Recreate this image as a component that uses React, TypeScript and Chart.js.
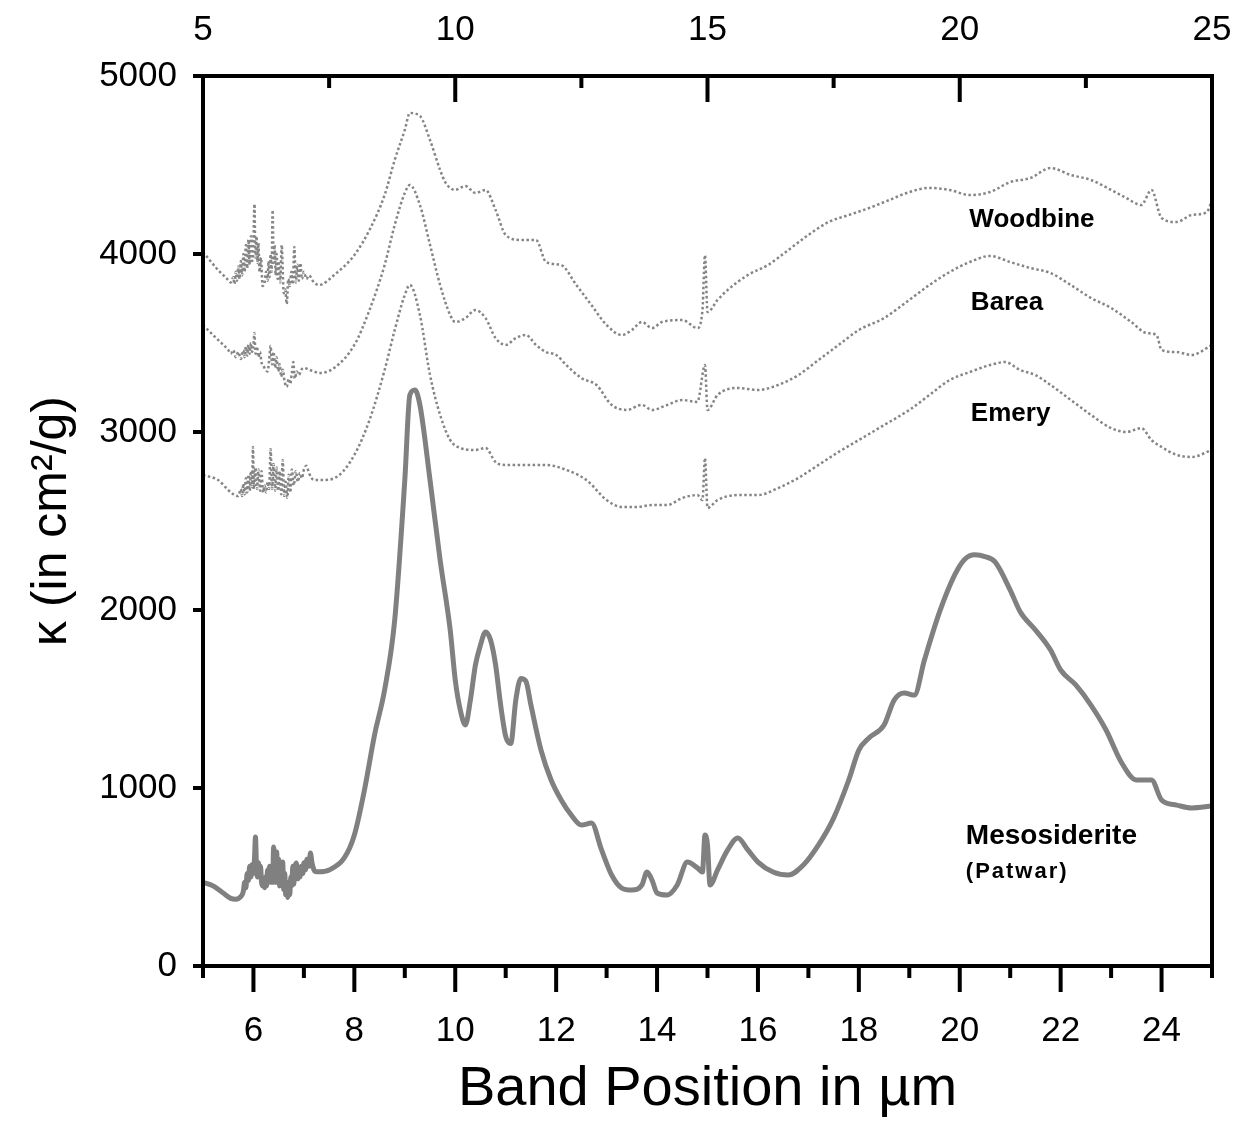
import React, { useEffect, useRef } from "react";
import { Chart, registerables } from "chart.js";

Chart.register(...registerables);

// ---------- Data (band position in µm, kappa in cm2/g) ----------
const mesoX = [5.0, 5.2, 5.4, 5.55, 5.65, 5.75, 5.8, 5.825, 5.85, 5.875, 5.9, 5.925, 5.95, 5.975, 6.0, 6.02, 6.04, 6.06, 6.08, 6.1, 6.12, 6.14, 6.16, 6.18, 6.2, 6.22, 6.24, 6.26, 6.28, 6.3, 6.32, 6.34, 6.36, 6.38, 6.4, 6.42, 6.44, 6.46, 6.48, 6.5, 6.52, 6.54, 6.56, 6.58, 6.6, 6.62, 6.64, 6.66, 6.68, 6.7, 6.72, 6.74, 6.76, 6.78, 6.8, 6.82, 6.85, 6.88, 6.9, 6.92, 6.95, 6.98, 7.0, 7.03, 7.06, 7.1, 7.13, 7.16, 7.2, 7.25, 7.3, 7.5, 7.8, 8.0, 8.2, 8.4, 8.6, 8.8, 9.0, 9.1, 9.2, 9.3, 9.5, 9.7, 9.9, 10.0, 10.1, 10.2, 10.3, 10.4, 10.5, 10.6, 10.7, 10.8, 10.9, 11.0, 11.1, 11.2, 11.3, 11.4, 11.5, 11.7, 11.9, 12.1, 12.3, 12.5, 12.7, 12.9, 13.1, 13.3, 13.5, 13.7, 13.8, 13.9, 14.0, 14.2, 14.4, 14.6, 14.8, 14.9, 14.95, 15.0, 15.05, 15.2, 15.4, 15.6, 15.8, 16.0, 16.3, 16.6, 16.9, 17.2, 17.5, 17.8, 18.0, 18.2, 18.5, 18.7, 18.9, 19.1, 19.3, 19.6, 19.9, 20.1, 20.3, 20.5, 20.7, 21.0, 21.2, 21.5, 21.8, 22.0, 22.3, 22.6, 22.9, 23.2, 23.5, 23.8, 24.0, 24.3, 24.6, 25.0];
const mesoY = [470, 450, 410, 380, 375, 390, 420, 470, 440, 520, 480, 560, 500, 570, 520, 600, 725, 560, 500, 580, 520, 560, 470, 450, 470, 440, 500, 450, 540, 480, 560, 470, 520, 470, 669, 600, 470, 640, 500, 600, 450, 560, 480, 584, 430, 520, 400, 470, 385, 420, 400, 500, 450, 560, 460, 540, 579, 490, 540, 500, 560, 520, 580, 540, 600, 560, 635, 580, 540, 530, 530, 540, 607, 736, 989, 1298, 1551, 1944, 2730, 3208, 3236, 3152, 2730, 2281, 1888, 1607, 1438, 1354, 1494, 1691, 1803, 1876, 1831, 1691, 1466, 1290, 1250, 1494, 1615, 1600, 1466, 1213, 1045, 933, 848, 792, 803, 652, 511, 438, 427, 455, 528, 483, 410, 399, 455, 584, 551, 528, 736, 680, 455, 540, 652, 719, 652, 584, 528, 511, 567, 680, 831, 1045, 1213, 1281, 1354, 1494, 1534, 1522, 1719, 1989, 2197, 2285, 2310, 2300, 2270, 2112, 1989, 1888, 1775, 1663, 1579, 1466, 1326, 1146, 1045, 1045, 933, 904, 888, 899];

const woodX = [5.0, 5.3, 5.5, 5.55, 5.6, 5.625, 5.65, 5.675, 5.7, 5.725, 5.75, 5.775, 5.8, 5.825, 5.85, 5.875, 5.9, 5.925, 5.95, 5.975, 6.0, 6.02, 6.04, 6.06, 6.08, 6.1, 6.12, 6.15, 6.18, 6.22, 6.25, 6.28, 6.3, 6.32, 6.34, 6.36, 6.38, 6.4, 6.42, 6.44, 6.46, 6.48, 6.5, 6.53, 6.56, 6.6, 6.63, 6.66, 6.69, 6.72, 6.75, 6.78, 6.81, 6.84, 6.87, 6.9, 6.93, 6.96, 7.0, 7.05, 7.1, 7.2, 7.3, 7.6, 8.0, 8.3, 8.6, 8.8, 9.0, 9.1, 9.3, 9.5, 9.7, 9.8, 10.0, 10.2, 10.4, 10.6, 10.8, 11.0, 11.3, 11.6, 11.8, 12.1, 12.4, 12.7, 13.0, 13.3, 13.5, 13.7, 13.9, 14.1, 14.5, 14.8, 14.9, 14.95, 15.0, 15.2, 15.4, 15.8, 16.2, 16.6, 17.0, 17.4, 17.8, 18.2, 18.6, 19.0, 19.4, 19.8, 20.2, 20.6, 21.0, 21.4, 21.8, 22.2, 22.6, 23.0, 23.3, 23.6, 23.8, 24.0, 24.3, 24.6, 24.9, 25.0];
const woodY = [4011, 3910, 3854, 3840, 3870, 3830, 3900, 3850, 3930, 3860, 3960, 3880, 4000, 3900, 4050, 3920, 4080, 3940, 4100, 3960, 4080, 4281, 3980, 4100, 3950, 4060, 3900, 3980, 3820, 3840, 3900, 3850, 3960, 3870, 4000, 3900, 4247, 3950, 4050, 3880, 4000, 3860, 3960, 3840, 4051, 3780, 3800, 3719, 3860, 3820, 3900, 3830, 4040, 3840, 3940, 3850, 3949, 3860, 3900, 3860, 3880, 3840, 3826, 3882, 3994, 4135, 4331, 4528, 4697, 4792, 4775, 4640, 4472, 4404, 4360, 4382, 4343, 4360, 4247, 4107, 4079, 4079, 3955, 3938, 3826, 3713, 3601, 3545, 3573, 3618, 3584, 3618, 3629, 3584, 3685, 3994, 3674, 3742, 3798, 3882, 3938, 4022, 4107, 4180, 4219, 4258, 4303, 4348, 4371, 4360, 4331, 4348, 4404, 4427, 4483, 4444, 4416, 4360, 4315, 4275, 4360, 4202, 4180, 4219, 4236, 4303];

const bareaX = [5.0, 5.3, 5.5, 5.55, 5.6, 5.65, 5.7, 5.75, 5.8, 5.825, 5.85, 5.875, 5.9, 5.925, 5.95, 5.975, 6.0, 6.02, 6.04, 6.07, 6.1, 6.13, 6.16, 6.2, 6.24, 6.28, 6.31, 6.34, 6.37, 6.4, 6.43, 6.46, 6.49, 6.52, 6.55, 6.58, 6.62, 6.66, 6.7, 6.73, 6.76, 6.79, 6.82, 6.86, 6.9, 6.95, 7.0, 7.1, 7.2, 7.3, 7.6, 8.0, 8.3, 8.6, 8.8, 9.0, 9.1, 9.3, 9.5, 9.7, 9.9, 10.0, 10.2, 10.4, 10.6, 10.8, 11.0, 11.2, 11.4, 11.6, 11.8, 12.0, 12.2, 12.5, 12.8, 13.1, 13.4, 13.7, 13.9, 14.2, 14.5, 14.8, 14.95, 15.0, 15.2, 15.6, 16.0, 16.4, 16.8, 17.2, 17.6, 18.0, 18.5, 19.0, 19.4, 19.8, 20.2, 20.6, 21.0, 21.4, 21.8, 22.2, 22.6, 23.0, 23.4, 23.7, 23.9, 24.0, 24.3, 24.6, 25.0];
const bareaY = [3601, 3517, 3461, 3440, 3460, 3420, 3450, 3410, 3460, 3420, 3480, 3430, 3490, 3440, 3500, 3450, 3490, 3556, 3440, 3480, 3420, 3450, 3390, 3370, 3350, 3340, 3400, 3483, 3380, 3450, 3360, 3420, 3340, 3380, 3310, 3350, 3280, 3253, 3300, 3270, 3330, 3393, 3300, 3340, 3320, 3350, 3360, 3350, 3340, 3331, 3360, 3489, 3685, 3938, 4163, 4343, 4388, 4275, 4051, 3826, 3657, 3618, 3640, 3685, 3640, 3528, 3489, 3528, 3545, 3489, 3449, 3433, 3376, 3303, 3264, 3152, 3124, 3152, 3124, 3152, 3180, 3169, 3376, 3124, 3208, 3247, 3236, 3264, 3320, 3404, 3489, 3573, 3640, 3742, 3826, 3899, 3955, 3989, 3955, 3921, 3893, 3826, 3753, 3697, 3618, 3556, 3545, 3461, 3449, 3433, 3489];

const emeryX = [5.0, 5.3, 5.5, 5.6, 5.7, 5.75, 5.775, 5.8, 5.825, 5.85, 5.875, 5.9, 5.925, 5.95, 5.975, 5.99, 6.01, 6.04, 6.07, 6.1, 6.13, 6.16, 6.19, 6.22, 6.25, 6.28, 6.31, 6.34, 6.37, 6.4, 6.43, 6.46, 6.49, 6.52, 6.55, 6.58, 6.61, 6.64, 6.67, 6.7, 6.73, 6.76, 6.8, 6.84, 6.88, 6.92, 6.96, 7.0, 7.05, 7.1, 7.2, 7.4, 7.7, 8.0, 8.3, 8.6, 8.8, 9.0, 9.1, 9.3, 9.5, 9.7, 9.9, 10.1, 10.4, 10.6, 10.8, 11.0, 11.4, 11.8, 12.2, 12.6, 13.0, 13.3, 13.6, 13.9, 14.2, 14.5, 14.8, 14.9, 14.95, 15.0, 15.2, 15.6, 16.0, 16.4, 16.8, 17.2, 17.6, 18.0, 18.5, 19.0, 19.4, 19.8, 20.2, 20.6, 20.9, 21.2, 21.5, 21.8, 22.2, 22.6, 23.0, 23.3, 23.6, 23.8, 24.0, 24.3, 24.6, 25.0];
const emeryY = [2758, 2730, 2674, 2650, 2640, 2680, 2640, 2710, 2650, 2740, 2660, 2760, 2670, 2780, 2690, 2916, 2680, 2800, 2680, 2790, 2670, 2780, 2660, 2700, 2660, 2720, 2680, 2904, 2680, 2820, 2670, 2800, 2670, 2780, 2650, 2843, 2640, 2720, 2630, 2760, 2660, 2790, 2700, 2780, 2720, 2770, 2740, 2790, 2810, 2770, 2730, 2730, 2758, 2871, 3067, 3348, 3573, 3770, 3826, 3657, 3320, 3096, 2955, 2910, 2899, 2910, 2831, 2815, 2815, 2815, 2787, 2730, 2618, 2579, 2579, 2590, 2590, 2629, 2646, 2618, 2854, 2573, 2618, 2646, 2646, 2685, 2742, 2815, 2888, 2955, 3039, 3124, 3208, 3292, 3337, 3376, 3393, 3348, 3320, 3264, 3180, 3096, 3022, 3000, 3022, 2955, 2916, 2871, 2860, 2899];

const bottomTicks = [6, 8, 10, 12, 14, 16, 18, 20, 22, 24];
const topTicks = [5, 10, 15, 20, 25];
const yTicks = [0, 1000, 2000, 3000, 4000, 5000];

const labelTexts = ["Woodbine", "Barea", "Emery", "Mesosiderite", "(Patwar)"];
const labelX = [20.19, 20.22, 20.22, 20.12, 20.12];
const labelY = [4191, 3725, 3101, 730, 528];
const labelSize = [26, 26, 26, 28, 22];
const labelSpacing = [0, 0, 0, 0, 2];

const FONT = "'Liberation Sans', Arial, Helvetica, sans-serif";

const zip = (xs: number[], ys: number[]) => xs.map((x, i) => ({ x, y: ys[i] }));

const framePlugin = {
  id: "frameAndTicks",
  afterDatasetsDraw(chart: any) {
    const { ctx, chartArea: a, scales } = chart;
    const sx = scales.x;
    const sy = scales.y;
    ctx.save();
    ctx.strokeStyle = "#000";
    ctx.lineWidth = 4;
    ctx.lineCap = "butt";
    const line = (x1: number, y1: number, x2: number, y2: number) => {
      ctx.beginPath();
      ctx.moveTo(x1, y1);
      ctx.lineTo(x2, y2);
      ctx.stroke();
    };
    // bottom ticks (major even, minor odd)
    for (let v = 5; v <= 25; v++) {
      const px = sx.getPixelForValue(v);
      const len = v % 2 === 0 ? 26 : 12;
      line(px, a.bottom, px, a.bottom + len);
    }
    // top ticks (inward)
    for (let v = 7.5; v < 25; v += 2.5) {
      const px = sx.getPixelForValue(v);
      const len = v % 5 === 0 ? 26 : 12;
      line(px, a.top, px, a.top + len);
    }
    // left ticks (outward)
    for (const v of yTicks) {
      const py = sy.getPixelForValue(v);
      line(a.left - 10, py, a.left, py);
    }
    // frame
    ctx.lineCap = "square";
    ctx.strokeRect(a.left, a.top, a.right - a.left, a.bottom - a.top);

    // annotations
    ctx.fillStyle = "#000";
    ctx.textAlign = "left";
    ctx.textBaseline = "middle";
    labelTexts.forEach((t, i) => {
      ctx.font = `bold ${labelSize[i]}px ${FONT}`;
      (ctx as any).letterSpacing = `${labelSpacing[i]}px`;
      ctx.fillText(t, sx.getPixelForValue(labelX[i]), sy.getPixelForValue(labelY[i]));
    });
    (ctx as any).letterSpacing = "0px";
    ctx.restore();
  },
};

export default function App() {
  const ref = useRef<HTMLCanvasElement | null>(null);
  useEffect(() => {
    document.body.style.margin = "0";
    document.body.style.overflow = "hidden";
    const canvas = ref.current!;
    const dotted = {
      borderColor: "#858585",
      borderWidth: 2.5,
      borderDash: [2.5, 2.5],
      pointRadius: 0,
      fill: false,
      cubicInterpolationMode: "monotone" as const,
    };
    const noPad = (s: any) => {
      s.paddingLeft = 0;
      s.paddingRight = 0;
    };
    const chart = new Chart(canvas, {
      type: "line",
      data: {
        datasets: [
          { label: "Woodbine", data: zip(woodX, woodY), ...dotted },
          { label: "Barea", data: zip(bareaX, bareaY), ...dotted },
          { label: "Emery", data: zip(emeryX, emeryY), ...dotted },
          {
            label: "Mesosiderite (Patwar)",
            data: zip(mesoX, mesoY),
            borderColor: "#808080",
            borderWidth: 5,
            pointRadius: 0,
            fill: false,
            borderJoinStyle: "round",
            borderCapStyle: "round",
            cubicInterpolationMode: "monotone",
          },
        ],
      },
      options: {
        responsive: false,
        animation: false,
        events: [],
        layout: { padding: { left: 0, right: 22, top: 0, bottom: 0 } },
        plugins: { legend: { display: false }, tooltip: { enabled: false } },
        scales: {
          x: {
            type: "linear",
            position: "bottom",
            min: 5,
            max: 25,
            afterBuildTicks: (s: any) => {
              s.ticks = bottomTicks.map((v) => ({ value: v }));
            },
            afterFit: (s: any) => {
              s.height = 163;
              noPad(s);
            },
            grid: { display: false, drawTicks: false, tickLength: 0 },
            border: { display: false },
            ticks: {
              color: "#000",
              font: { family: FONT, size: 35 },
              padding: 44,
              maxRotation: 0,
              autoSkip: false,
              callback: (v: any) => String(v),
            },
            title: {
              display: true,
              text: "Band Position in µm",
              color: "#000",
              font: { family: FONT, size: 56 },
              padding: { top: 0, bottom: 6 },
            },
          },
          x2: {
            type: "linear",
            position: "top",
            min: 5,
            max: 25,
            afterBuildTicks: (s: any) => {
              s.ticks = topTicks.map((v) => ({ value: v }));
            },
            afterFit: (s: any) => {
              s.height = 76;
              noPad(s);
            },
            grid: { display: false, drawTicks: false, tickLength: 0 },
            border: { display: false },
            ticks: {
              color: "#000",
              font: { family: FONT, size: 35 },
              padding: 25,
              maxRotation: 0,
              autoSkip: false,
              callback: (v: any) => String(v),
            },
          },
          y: {
            type: "linear",
            position: "left",
            min: 0,
            max: 5000,
            afterBuildTicks: (s: any) => {
              s.ticks = yTicks.map((v) => ({ value: v }));
            },
            afterFit: (s: any) => {
              s.width = 203;
              s.paddingTop = 0;
              s.paddingBottom = 0;
            },
            grid: { display: false, drawTicks: false, tickLength: 0 },
            border: { display: false },
            ticks: {
              color: "#000",
              font: { family: FONT, size: 35 },
              padding: 26,
              autoSkip: false,
              callback: (v: any) => String(v),
            },
            title: {
              display: true,
              text: "κ (in cm²/g)",
              color: "#000",
              font: { family: FONT, size: 50 },
              padding: { top: 22, bottom: 0 },
            },
          },
        },
      },
      plugins: [framePlugin],
    });
    return () => chart.destroy();
  }, []);
  return (
    <canvas
      ref={ref}
      width={1234}
      height={1129}
      style={{ display: "block", width: 1234, height: 1129 }}
    />
  );
}
